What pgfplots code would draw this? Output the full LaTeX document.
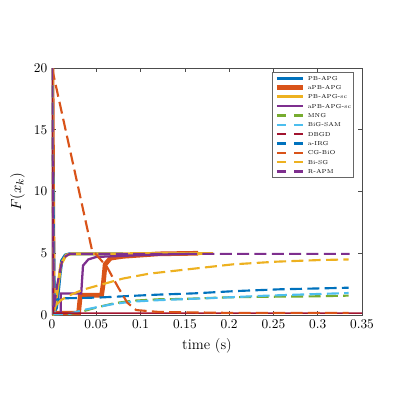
\documentclass[border=0pt]{standalone}
\usepackage{pgfplots}
\pgfplotsset{compat=1.18}

\definecolor{mblue}{rgb}{0,0.447,0.741}
\definecolor{morange}{rgb}{0.85,0.325,0.098}
\definecolor{myellow}{rgb}{0.929,0.694,0.125}
\definecolor{mpurple}{rgb}{0.494,0.184,0.556}
\definecolor{mgreen}{rgb}{0.466,0.674,0.188}
\definecolor{mcyan}{rgb}{0.301,0.745,0.933}
\definecolor{mred}{rgb}{0.635,0.078,0.184}

\pgfplotsset{
  dl/.style={dash pattern=on 9pt off 4pt, line width=1.6pt,
    legend image code/.code={\draw[##1, line width=1.8pt, dash pattern=on 7pt off 6pt] (0pt,0pt) -- (20pt,0pt);}},
}

\begin{document}
\begin{tikzpicture}
% page size follows the reference (1px = 0.75pt)
\path[use as bounding box] (-39pt,-60.75pt) rectangle (260.25pt,236.25pt);
\begin{axis}[
    at={(0,0)}, anchor=south west,
    scale only axis, width=232.5pt, height=185.25pt,
    xmin=0, xmax=0.35, ymin=0, ymax=20,
    xtick={0,0.05,...,0.35}, ytick={0,5,10,15,20},
    xticklabels={0,0.05,0.1,0.15,0.2,0.25,0.3,0.35},
    tick align=inside, major tick length=3pt,
    axis line style={black!70, line width=0.4pt},
    tick style={black!70, line width=0.4pt},
    label style={font=\fontsize{11}{13}\selectfont},
    xlabel={time (s)}, ylabel={$F(x_k)$},
    legend image code/.code={\draw[#1] (0pt,0pt) -- (20pt,0pt);},
    legend cell align=left,
    legend style={at={(rel axis cs:0.974,0.984)}, anchor=north east,
      font=\fontsize{4.3}{5}\selectfont, draw=black!60, line width=0.4pt,
      row sep=0.9pt, inner sep=1.5pt, column sep=1pt,
      nodes={inner sep=0.5pt, text height=3.9pt, text depth=1.2pt}},
    clip=true,
]
\addplot[mblue, line width=2.4pt] coordinates {(0,20) (0.001,1.0) (0.003,0.3) (0.005,0.6) (0.0075,2.2) (0.009,3.3) (0.011,4.4) (0.015,4.85) (0.02,4.95) (0.08,4.95)};
\addlegendentry{PB-APG}
\addplot[morange, line width=3.5pt] coordinates {(0,20) (0.0015,0.15) (0.03,0.15) (0.032,1.6) (0.056,1.6) (0.058,2.6) (0.060,4.1) (0.066,4.6) (0.08,4.75) (0.1,4.85) (0.12,4.95) (0.165,5.0)};
\addlegendentry{aPB-APG}
\addplot[myellow, line width=2.2pt] coordinates {(0,20) (0.002,0.3) (0.004,0.8) (0.007,2.5) (0.01,4.1) (0.016,4.85) (0.022,4.95) (0.182,4.98)};
\addlegendentry{PB-APG-sc}
\addplot[mpurple, line width=1.7pt] coordinates {(0,20) (0.001,0.1) (0.0098,0.1) (0.0098,1.75) (0.033,1.75) (0.035,4.0) (0.041,4.5) (0.05,4.7) (0.1,4.85) (0.155,4.95)};
\addlegendentry{aPB-APG-sc}
\addplot[mgreen, dl] coordinates {(0,20) (0.002,0.05) (0.02,0.1) (0.03,0.2) (0.05,0.6) (0.07,0.95) (0.09,1.15) (0.12,1.27) (0.148,1.3) (0.197,1.43) (0.246,1.48) (0.295,1.51) (0.335,1.57)};
\addlegendentry{MNG}
\addplot[mcyan, dl] coordinates {(0,20) (0.003,0.05) (0.02,0.1) (0.035,0.4) (0.05,0.62) (0.07,0.9) (0.09,1.08) (0.12,1.2) (0.144,1.27) (0.19,1.4) (0.24,1.56) (0.287,1.67) (0.335,1.78)};
\addlegendentry{BiG-SAM}
\addplot[mred, dl, solid, line width=1pt] coordinates {(0,20) (0.002,0.15) (0.1,0.15) (0.2,0.15) (0.35,0.15)};
\addlegendentry{DBGD}
\addplot[mblue, dl] coordinates {(0,20) (0.003,1.2) (0.01,1.35) (0.033,1.38) (0.055,1.42) (0.09,1.55) (0.12,1.65) (0.16,1.75) (0.208,1.94) (0.257,2.08) (0.306,2.16) (0.335,2.21)};
\addlegendentry{a-IRG}
\addplot[morange, dl] coordinates {(0,20) (0.045,5.3) (0.062,3.9) (0.075,2.2) (0.085,1.0) (0.095,0.4) (0.12,0.25) (0.2,0.17) (0.335,0.17)};
\addlegendentry{CG-BiO}
\addplot[myellow, dl] coordinates {(0,20) (0.002,0.6) (0.01,1.2) (0.02,1.6) (0.035,2.05) (0.055,2.45) (0.08,2.95) (0.11,3.35) (0.156,3.72) (0.204,4.1) (0.254,4.32) (0.302,4.45) (0.335,4.5)};
\addlegendentry{Bi-SG}
\addplot[mpurple, dl] coordinates {(0,20) (0.002,0.5) (0.006,2.5) (0.012,4.6) (0.02,4.95) (0.336,4.95)};
\addlegendentry{R-APM}
\end{axis}
\end{tikzpicture}
\end{document}
